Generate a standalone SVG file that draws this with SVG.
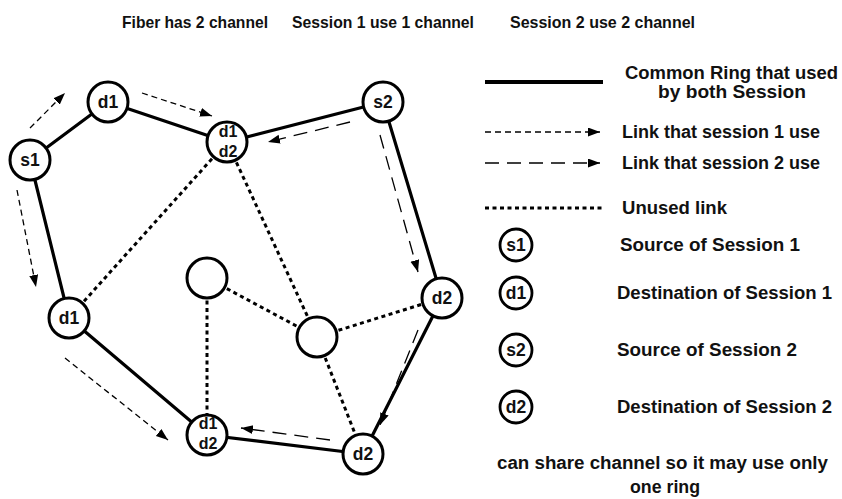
<svg xmlns="http://www.w3.org/2000/svg" width="842" height="499" viewBox="0 0 842 499">
  <style>
    .ring { fill: none; stroke: #000; stroke-width: 3.2; stroke-linejoin: round; }
    .unused { fill: none; stroke: #000; stroke-width: 3; stroke-dasharray: 4 3.5; }
    .s1 { fill: none; stroke: #000; stroke-width: 1.3; stroke-dasharray: 6 4; marker-end: url(#head); }
    .s2 { fill: none; stroke: #000; stroke-width: 1.3; stroke-dasharray: 14 8; marker-end: url(#head); }
    .node { fill: #fff; stroke: #000; stroke-width: 3; }
    .lnode { fill: #fff; stroke: #000; stroke-width: 2.8; }
    .lbl { font-family: "Liberation Sans", Arial, sans-serif; font-weight: bold; font-size: 17.5px; fill: #111; }
    .nl { font-family: "Liberation Sans", Arial, sans-serif; font-weight: bold; font-size: 17.5px; fill: #111; text-anchor: middle; }
    .nl2 { font-family: "Liberation Sans", Arial, sans-serif; font-weight: bold; font-size: 16px; fill: #111; text-anchor: middle; }
    .hdr { font-family: "Liberation Sans", Arial, sans-serif; font-weight: bold; font-size: 17px; fill: #111; }
  </style>
  <defs>
    <marker id="head" markerUnits="userSpaceOnUse" markerWidth="13" markerHeight="10" refX="12" refY="4.5" orient="auto">
      <path d="M0,0 L12,4.5 L0,9 z" fill="#000"/>
    </marker>
  </defs>
  <rect width="842" height="499" fill="#fff"/>

  <!-- headings -->
  <text class="hdr" x="122" y="28" textLength="146" lengthAdjust="spacingAndGlyphs">Fiber has 2 channel</text>
  <text class="hdr" x="292" y="28" textLength="182" lengthAdjust="spacingAndGlyphs">Session 1 use 1 channel</text>
  <text class="hdr" x="510" y="28" textLength="185" lengthAdjust="spacingAndGlyphs">Session 2 use 2 channel</text>

  <g id="connectors">
    <!-- common ring -->
    <polygon class="ring" points="30,160 108,102 227,142 383,102 442,298 363,454 207,435 69,318"/>
    <!-- unused links -->
    <line class="unused" x1="227" y1="142" x2="69" y2="318"/>
    <line class="unused" x1="227" y1="142" x2="317" y2="337"/>
    <line class="unused" x1="207" y1="278" x2="317" y2="337"/>
    <line class="unused" x1="207" y1="278" x2="207" y2="435"/>
    <line class="unused" x1="317" y1="337" x2="442" y2="298"/>
    <line class="unused" x1="317" y1="337" x2="363" y2="454"/>
    <!-- session 1 path -->
    <path class="s1" d="M30,128 L65,93"/>
    <path class="s1" d="M142,93 L212,116"/>
    <path class="s1" d="M17,190 L36,287"/>
    <path class="s1" d="M65,358 L168,440"/>
    <!-- session 2 path -->
    <path class="s2" d="M350,122 L268,142"/>
    <path class="s2" d="M380,135 L418,272"/>
    <path class="s2" d="M418,330 L380,425"/>
    <path class="s2" d="M330,440 L241,428"/>
  </g>

  <g id="n-s1"><circle class="node" cx="30" cy="160" r="20"/><text class="nl" x="30" y="166">s1</text></g>
  <g id="n-d1-top"><circle class="node" cx="108" cy="102" r="20"/><text class="nl" x="108" y="108">d1</text></g>
  <g id="n-d1d2-top"><circle class="node" cx="227" cy="142" r="20"/><text class="nl2" x="228" y="137">d1</text><text class="nl2" x="228" y="157">d2</text></g>
  <g id="n-s2"><circle class="node" cx="383" cy="102" r="20"/><text class="nl" x="383" y="108">s2</text></g>
  <g id="n-d1-left"><circle class="node" cx="69" cy="318" r="20"/><text class="nl" x="69" y="324">d1</text></g>
  <g id="n-e1"><circle class="node" cx="207" cy="278" r="20"/></g>
  <g id="n-e2"><circle class="node" cx="317" cy="337" r="20"/></g>
  <g id="n-d2-right"><circle class="node" cx="442" cy="298" r="20"/><text class="nl" x="442" y="304">d2</text></g>
  <g id="n-d1d2-bottom"><circle class="node" cx="207" cy="435" r="20"/><text class="nl2" x="208" y="429">d1</text><text class="nl2" x="208" y="449">d2</text></g>
  <g id="n-d2-bottom"><circle class="node" cx="363" cy="454" r="20"/><text class="nl" x="363" y="460">d2</text></g>

  <g id="legend">
    <line x1="485" y1="82" x2="603" y2="82" stroke="#000" stroke-width="4"/>
    <text class="lbl" x="625" y="79" textLength="213" lengthAdjust="spacingAndGlyphs">Common Ring that used</text>
    <text class="lbl" x="658" y="98" textLength="148" lengthAdjust="spacingAndGlyphs">by both Session</text>

    <path class="s1" d="M485,132 L600,132"/>
    <text class="lbl" x="622" y="138" textLength="198" lengthAdjust="spacingAndGlyphs">Link that session 1 use</text>

    <path class="s2" d="M485,163 L600,163"/>
    <text class="lbl" x="622" y="169" textLength="198" lengthAdjust="spacingAndGlyphs">Link that session 2 use</text>

    <line class="unused" x1="485" y1="208" x2="602" y2="208"/>
    <text class="lbl" x="622" y="214" textLength="105" lengthAdjust="spacingAndGlyphs">Unused link</text>

    <circle class="lnode" cx="516" cy="245" r="16"/><text class="nl" x="516" y="251">s1</text>
    <text class="lbl" x="620" y="251" textLength="180" lengthAdjust="spacingAndGlyphs">Source of Session 1</text>

    <circle class="lnode" cx="516" cy="293" r="16"/><text class="nl" x="516" y="299">d1</text>
    <text class="lbl" x="617" y="299" textLength="215" lengthAdjust="spacingAndGlyphs">Destination of Session 1</text>

    <circle class="lnode" cx="516" cy="350" r="16"/><text class="nl" x="516" y="356">s2</text>
    <text class="lbl" x="617" y="356" textLength="180" lengthAdjust="spacingAndGlyphs">Source of Session 2</text>

    <circle class="lnode" cx="516" cy="407" r="16"/><text class="nl" x="516" y="413">d2</text>
    <text class="lbl" x="617" y="413" textLength="215" lengthAdjust="spacingAndGlyphs">Destination of Session 2</text>

    <text class="lbl" x="497" y="469" textLength="331" lengthAdjust="spacingAndGlyphs">can share channel so it may use only</text>
    <text class="lbl" x="630" y="493" textLength="70" lengthAdjust="spacingAndGlyphs">one ring</text>
  </g>
</svg>
